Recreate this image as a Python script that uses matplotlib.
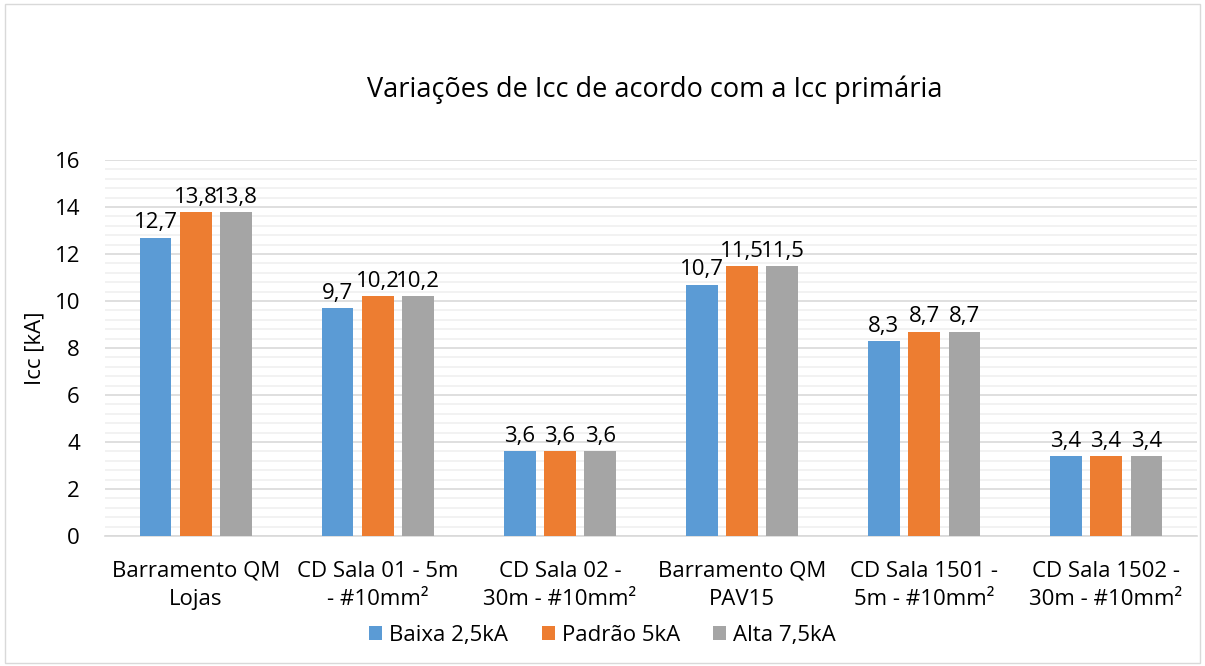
import matplotlib.pyplot as plt
import numpy as np
from matplotlib.ticker import MultipleLocator

# Dados do gráfico
categorias = ["Barramento QM\nLojas", "CD Sala 01 - 5m\n- #10mm²", "CD Sala 02 -\n30m - #10mm²",
              "Barramento QM\nPAV15", "CD Sala 1501 -\n5m - #10mm²", "CD Sala 1502 -\n30m - #10mm²"]
baixa = [12.7, 9.7, 3.6, 10.7, 8.3, 3.4]
padrao = [13.8, 10.2, 3.6, 11.5, 8.7, 3.4]
alta = [13.8, 10.2, 3.6, 11.5, 8.7, 3.4]
series = ["Baixa 2,5kA", "Padrão 5kA", "Alta 7,5kA"]
cores = ["#5B9BD5", "#ED7D31", "#A5A5A5"]

plt.rcParams['font.family'] = ['Open Sans', 'DejaVu Sans']
fs = 16

fig = plt.figure(figsize=(12.05, 6.66), dpi=100)
ax = fig.add_axes([0.0871, 0.1952, 0.9063, 0.5646])

x = np.arange(len(categorias))
largura = 0.175
passo = 0.222

for i, (valores, nome, cor) in enumerate(zip([baixa, padrao, alta], series, cores)):
    barras = ax.bar(x + (i - 1) * passo, valores, largura, color=cor, label=nome, zorder=3)
    rotulos = [f"{v:.1f}".replace(".", ",") for v in valores]
    ax.bar_label(barras, labels=rotulos, padding=3, fontsize=fs, color="#000000")

ax.set_xlim(-0.5, len(categorias) - 0.5)
ax.set_ylim(0, 16)
ax.yaxis.set_major_locator(MultipleLocator(2))
ax.yaxis.set_minor_locator(MultipleLocator(0.4))
ax.grid(axis="y", which="major", color="#d9d9d9", linewidth=1.2, zorder=0)
ax.grid(axis="y", which="minor", color="#f0f0f0", linewidth=1.2, zorder=0)
ax.set_axisbelow(True)

ax.set_xticks(x)
ax.set_xticklabels(categorias, fontsize=fs, linespacing=1.45)
ax.tick_params(axis="both", which="both", length=0, labelsize=fs)
ax.tick_params(axis="x", pad=18)
ax.tick_params(axis="y", pad=18)
for lado in ["top", "right", "left"]:
    ax.spines[lado].set_visible(False)
ax.spines["bottom"].set_color("#d9d9d9")
ax.spines["bottom"].set_linewidth(1.2)

ax.set_ylabel("Icc [kA]", fontsize=fs)
ax.yaxis.set_label_coords(-0.054, 0.5)

fig.text(0.543, 0.865, "Variações de Icc de acordo com a Icc primária", fontsize=19.5,
         ha="center", va="center", color="#000000")

fig.legend(loc="center", bbox_to_anchor=(0.5, 0.046), ncol=3, frameon=False, fontsize=fs,
           handlelength=0.6, handleheight=0.6, handletextpad=0.3, columnspacing=1.5)

# Moldura do gráfico
fig.patches.append(plt.Rectangle((0.004, 0.004), 0.992, 0.99, transform=fig.transFigure,
                                 fill=False, edgecolor="#d9d9d9", linewidth=1))

fig.savefig("out.png", dpi=100)
